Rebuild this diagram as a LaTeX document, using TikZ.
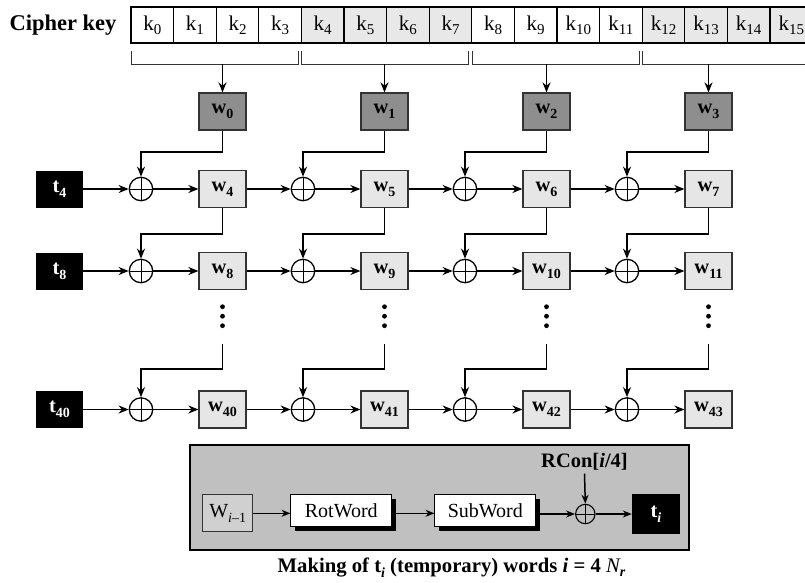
\documentclass[tikz,border=0pt]{standalone}
\usepackage{fontspec}
\setmainfont{Liberation Serif}
\usepackage{graphicx}
\usetikzlibrary{arrows.meta,shadows,calc}
\definecolor{wdark}{HTML}{8E8E8E}
\definecolor{wlight}{HTML}{E6E6E6}
\definecolor{keyshade}{HTML}{E8E8E8}
\definecolor{panel}{HTML}{C0C0C0}
\definecolor{wprev}{HTML}{D0D0D0}
\definecolor{edge}{HTML}{333333}
\newcommand\dn[2][14]{\raisebox{-0.55ex}{\fontsize{#1}{#1}\selectfont #2}}
\newcommand\kdn[1]{\raisebox{-0.4ex}{\fontsize{15}{15}\selectfont #1}}
\newcommand\fs[1]{\fontsize{#1}{#1}\selectfont}
\begin{document}
\begin{tikzpicture}[x=1pt,y=-1pt,
 arr/.style={-{Stealth[length=10pt,width=8pt]}, line width=1.7pt},
 sarr/.style={-{Stealth[length=9pt,width=7pt]}, line width=1.5pt},
 keycell/.style={draw=black, line width=1.3pt, minimum width=42.6pt, minimum height=36pt, inner sep=0pt, outer sep=0pt, font=\fs{21}},
 wtop/.style={draw=edge, line width=1.2pt, fill=wdark, minimum width=47pt, minimum height=37pt, inner sep=0pt, font=\bfseries\fs{20.5}},
 wbox/.style={wtop, fill=wlight},
 tbox/.style={fill=black, text=white, minimum width=47pt, minimum height=37pt, inner sep=0pt, font=\bfseries\fs{20.5}},
 xor/.style={circle, draw=black, line width=1.3pt, minimum size=23.4pt, inner sep=0pt,
   path picture={\draw[line width=1pt] (path picture bounding box.north) -- (path picture bounding box.south) (path picture bounding box.west) -- (path picture bounding box.east);}},
 brk/.style={draw=edge, line width=1pt},
 opbox/.style={draw=black, line width=1pt, fill=white, minimum width=100.7pt, minimum height=31.7pt, inner sep=0pt, font=\fs{20},
   drop shadow={shadow xshift=4pt, shadow yshift=-4pt, fill=black, opacity=1}},
]
\useasboundingbox (0,0) rectangle (805,582);

% cipher key
\node[font=\bfseries\fs{22.5}] (ck) at (63,25) {Cipher key};
\foreach \i in {0,...,15}{
  \pgfmathtruncatemacro\g{mod(floor(\i/4),2)}
  \ifnum\g=1 \def\kf{keyshade}\else\def\kf{white}\fi
  \node[keycell, fill=\kf] (k\i) at ({131+42.6*\i+21.3},25) {k\kdn{\i}};
}
% brackets
\foreach \g in {0,...,3}{
  \draw[brk] ({131+170.4*\g+0.5},51) -- ({131+170.4*\g+0.5},64) -- ({131+170.4*(\g+1)-3},64) -- ({131+170.4*(\g+1)-3},51);
  \coordinate (b\g) at ({222.5+162*\g},64);
}
% top words
\foreach \c in {0,...,3}{
  \node[wtop] (w\c) at ({222.5+162*\c},111.5) {w\dn{\c}};
  \draw[arr] (b\c) -- (w\c.north);
}
% rows
\foreach \r/\y/\base in {1/189/4, 2/271/8, 3/409.5/40}{
  \node[tbox] (t\r) at (59.5,\y) {t\dn{\base}};
  \foreach \c in {0,...,3}{
    \pgfmathtruncatemacro\idx{\base+\c}
    \node[xor] (x\r\c) at ({141+162*\c},\y) {};
    \node[wbox] (w\r\c) at ({222.5+162*\c},\y) {w\dn{\idx}};
    \draw[arr] (x\r\c) -- (w\r\c);
  }
  \draw[arr] (t\r) -- (x\r0);
  \draw[arr] (w\r0) -- (x\r1);
  \draw[arr] (w\r1) -- (x\r2);
  \draw[arr] (w\r2) -- (x\r3);
}
% dots and feedback
\foreach \c in {0,...,3}{
  \fill ({222.5+162*\c},306.7) circle (2.4);
  \fill ({222.5+162*\c},316.2) circle (2.4);
  \fill ({222.5+162*\c},325.7) circle (2.4);
  \coordinate (d\c) at ({222.5+162*\c},344);
  \draw[arr] (w\c.south) |- ([yshift=25pt]x1\c.north) -- (x1\c.north);
  \draw[arr] (w1\c.south) |- ([yshift=24.5pt]x2\c.north) -- (x2\c.north);
  \draw[arr] (d\c) |- ([yshift=28pt]x3\c.north) -- (x3\c.north);
}

% bottom panel
\node[draw=black, line width=2.5pt, fill=panel, minimum width=499pt, minimum height=105pt, inner sep=0pt] (panelbox) at (439.5,497.5) {};
\node[draw=edge, line width=1pt, fill=wprev, minimum width=50pt, minimum height=37pt, inner sep=0pt, font=\fs{20}] (wim) at (227.7,513.3) {W\dn{\textit{i}–1}};
\node[opbox] (rot) at (341.3,510.8) {RotWord};
\node[opbox] (sub) at (485.3,510.8) {SubWord};
\node[xor, minimum size=19.4pt, line width=1.1pt] (xr) at (585.3,514) {};
\node[tbox, minimum width=48pt, minimum height=40pt] (ti) at (656,514.3) {t\dn{\textit{i}}};
\node[font=\bfseries\fs{20.5}] (rcon) at (584.5,461.5) {RCon[\textit{i}/4]};
\draw[sarr] (wim.east) -- (wim.east -| rot.west);
\draw[sarr] (rot.east |- wim.east) -- (sub.west |- wim.east);
\draw[sarr] (sub.east |- xr.west) -- (xr.west);
\draw[sarr] (xr.east) -- (ti.west |- xr.east);
\draw[sarr] (rcon.south) -- (xr.north);

\node[font=\bfseries\fs{20.7}] (cap) at (451.5,567.5) {Making of t\dn{\textit{i}} (temporary) words \textit{i} = 4 {\mdseries\itshape N\raisebox{-0.45ex}{\fontsize{14}{14}\selectfont\bfseries r}}};
\end{tikzpicture}
\end{document}
